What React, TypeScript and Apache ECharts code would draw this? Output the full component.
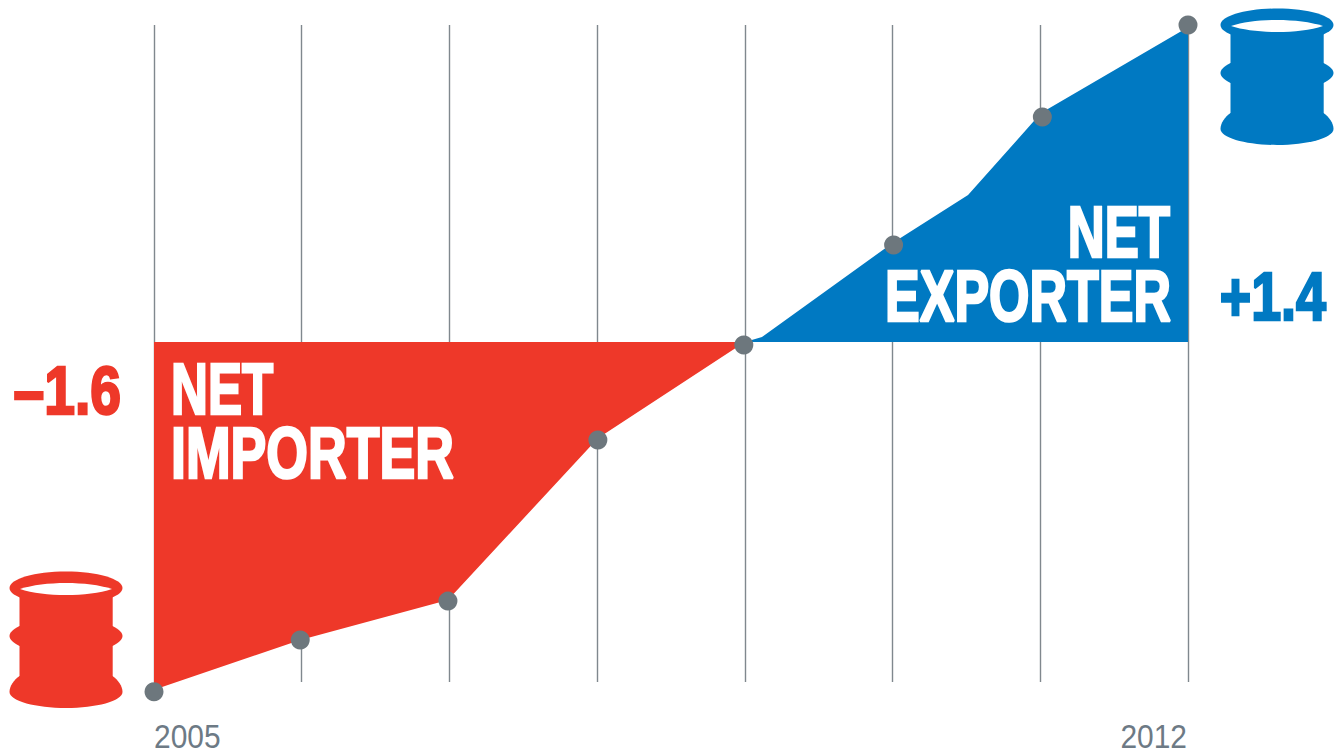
import React, { useEffect, useRef } from "react";
import * as echarts from "echarts";

const years = [2005, 2006, 2007, 2008, 2009, 2010, 2011, 2012];
const importerArea: [number, number][] = [
  [2004.993, -1.592], [2005.99, -1.363], [2006.99, -1.18], [2008.005, -0.44], [2009.0, 0],
];
const exporterArea: [number, number][] = [
  [2009.0, 0], [2009.116, 0.023], [2010.0, 0.453], [2010.511, 0.672], [2011.005, 1.047], [2012.0, 1.44],
];
const points: [number, number][] = [
  [2005, -1.6], [2005.99, -1.363], [2006.99, -1.185], [2008.005, -0.448], [2008.993, -0.014],
  [2010.007, 0.444], [2011.014, 1.029], [2012, 1.45],
];
const RED = "#EE3829";
const BLUE = "#0079C2";
const DOT = "#6D777D";
const YEAR = "#6D7A85";
const FONT = '"Liberation Sans", Arial, sans-serif';

echarts.graphic.registerShape(
  "barrelLens",
  echarts.graphic.extendPath("M-46 0C-22 -8 22 -8 46 0C22 8 -22 8 -46 0Z", {})
);
echarts.graphic.registerShape(
  "barrelMid",
  echarts.graphic.extendPath("M-46.5 -10C-53 -7 -56.5 -3 -56.5 0C-56.5 3 -53 7 -46.5 10L46.5 10C53 7 56.5 3 56.5 0C56.5 -3 53 -7 46.5 -10Z", {})
);
echarts.graphic.registerShape(
  "barrelBase",
  echarts.graphic.extendPath("M-46.5 -16C-52 -12 -56.5 -6 -56.5 0C-56.5 9 -30 16 0 16C30 16 56.5 9 56.5 0C56.5 -6 52 -12 46.5 -16Z", {})
);

function barrel(color: string, x: number, y: number) {
  return {
    type: "group", x, y, z: 20,
    children: [
      { type: "ellipse", shape: { cx: 66, cy: 28, rx: 56.5, ry: 16.5 }, style: { fill: color } },
      { type: "rect", shape: { x: 19.5, y: 35, width: 93.2, height: 100 }, style: { fill: color } },
      { type: "barrelMid", x: 66, y: 76, style: { fill: color } },
      { type: "barrelBase", x: 66, y: 132, style: { fill: color } },
      { type: "barrelLens", x: 66, y: 29, style: { fill: "#fff" } },
    ],
  };
}

// baseline: y of the text's baseline in the picture
function label(
  text: string, x: number, baseline: number, size: number, color: string,
  align: string, scaleX: number, bold = true
) {
  return {
    type: "text", x, y: baseline - 0.86 * size, scaleX, z: 20,
    style: {
      text, fill: color, stroke: bold ? color : undefined, lineWidth: bold ? 2.6 : 0, align, verticalAlign: "top",
      fontFamily: FONT, fontWeight: bold ? "bold" : "normal", fontSize: size,
    },
  };
}

export default function App() {
  const ref = useRef<HTMLDivElement>(null);
  useEffect(() => {
    const chart = echarts.init(ref.current!, null, { renderer: "svg" });
    chart.setOption({
      animation: false,
      backgroundColor: "#fff",
      grid: { left: 154, top: 25, width: 1034, height: 657, outerBoundsMode: "none" },
      xAxis: {
        type: "value", min: 2005, max: 2012, interval: 1,
        axisLine: { show: false }, axisTick: { show: false }, axisLabel: { show: false },
        splitLine: { show: true, lineStyle: { color: "#80888E", width: 1.4 } },
      },
      yAxis: { type: "value", min: -1.555, max: 1.45, show: false, splitLine: { show: false } },
      series: [
        {
          type: "line", data: importerArea, symbol: "none", clip: false, silent: true,
          lineStyle: { width: 0 }, areaStyle: { color: RED, opacity: 1, origin: 0 },
        },
        {
          type: "line", data: exporterArea, symbol: "none", clip: false, silent: true,
          lineStyle: { width: 0 }, areaStyle: { color: BLUE, opacity: 1, origin: 0 },
        },
        { type: "scatter", data: points, symbolSize: 19, clip: false, itemStyle: { color: DOT, opacity: 1 }, z: 5 },
      ],
      graphic: [
        barrel(RED, 0, 560),
        barrel(BLUE, 1211, -3),
        label("NET", 171, 415, 72, "#fff", "left", 0.71),
        label("IMPORTER", 171, 479, 72, "#fff", "left", 0.745),
        label("NET", 1170, 258, 72, "#fff", "right", 0.71),
        label("EXPORTER", 1171, 322, 72, "#fff", "right", 0.722),
        label("–1.6", 121, 415, 69, RED, "right", 0.8),
        label("+1.4", 1326, 321, 69, BLUE, "right", 0.78),
        label(String(years[0]), 154, 749, 34, YEAR, "left", 0.88, false),
        label(String(years[years.length - 1]), 1187, 749, 34, YEAR, "right", 0.88, false),
      ],
    });
    return () => chart.dispose();
  }, []);
  return <div ref={ref} style={{ position: "fixed", left: 0, top: 0, width: 1340, height: 755 }} />;
}
